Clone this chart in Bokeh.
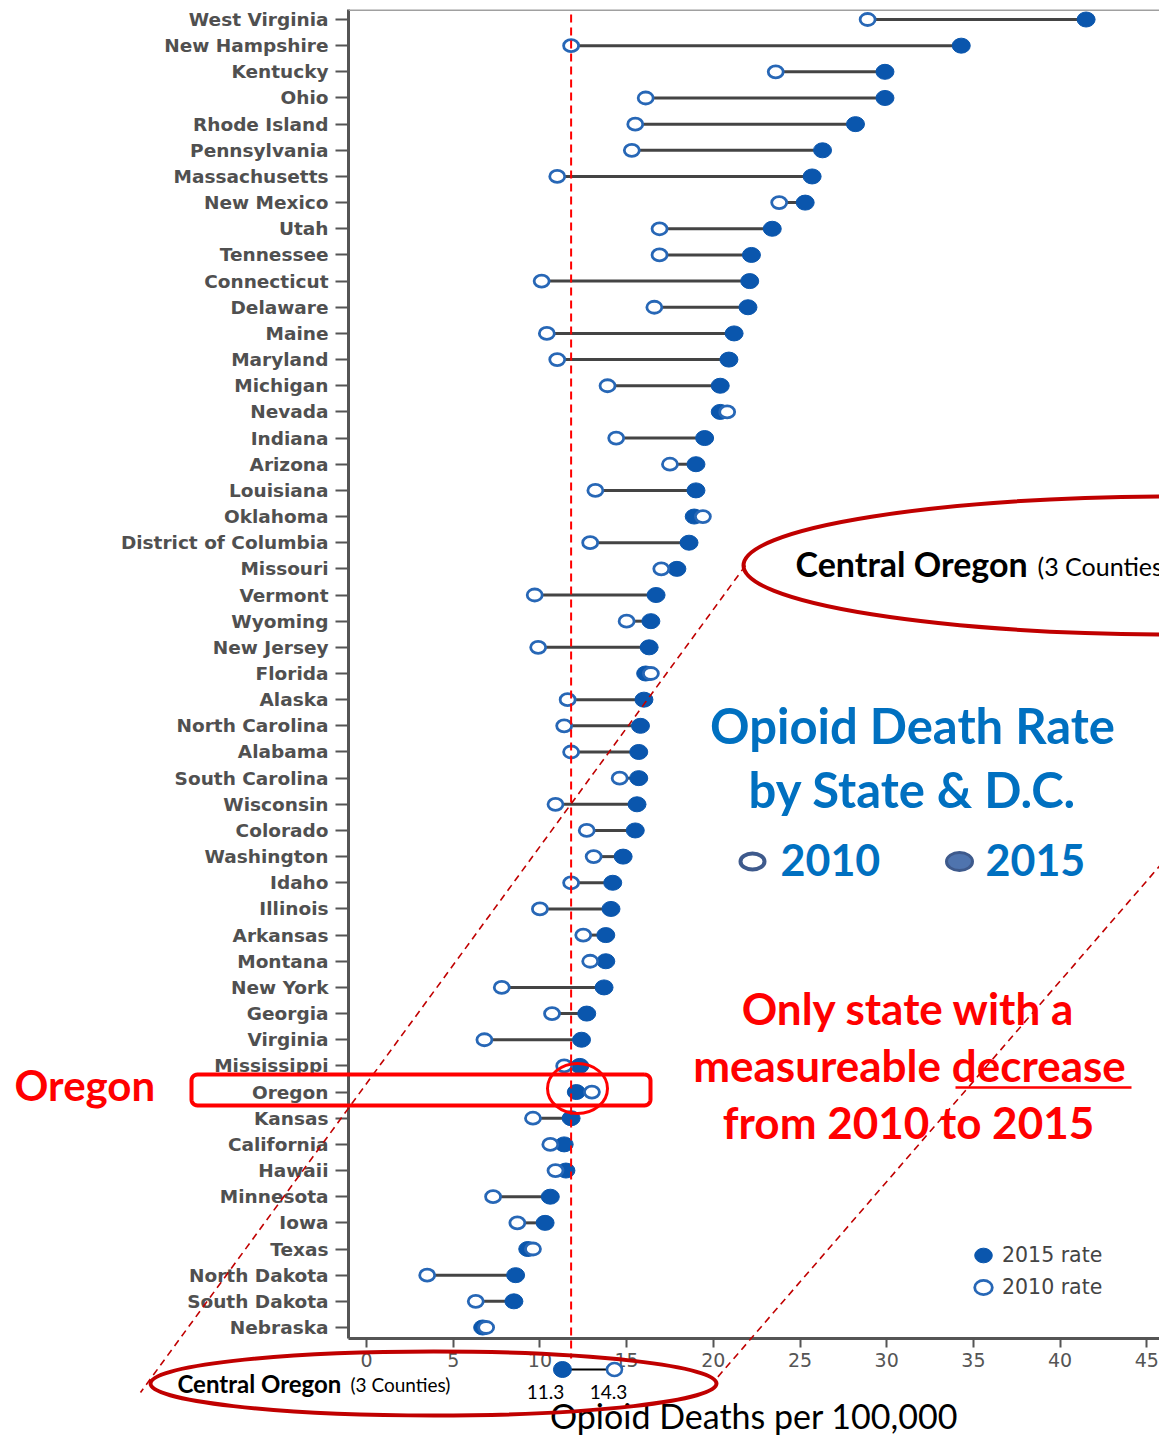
import numpy as np
from bokeh.plotting import figure
from bokeh.models import (ColumnDataSource, FixedTicker, Span, Legend, LegendItem, Range1d)
from bokeh.core.properties import value
from bokeh.embed import file_html
from bokeh.resources import INLINE

# ---------------- data ----------------
states = ["West Virginia", "New Hampshire", "Kentucky", "Ohio", "Rhode Island", "Pennsylvania",
          "Massachusetts", "New Mexico", "Utah", "Tennessee", "Connecticut", "Delaware", "Maine",
          "Maryland", "Michigan", "Nevada", "Indiana", "Arizona", "Louisiana", "Oklahoma",
          "District of Columbia", "Missouri", "Vermont", "Wyoming", "New Jersey", "Florida",
          "Alaska", "North Carolina", "Alabama", "South Carolina", "Wisconsin", "Colorado",
          "Washington", "Idaho", "Illinois", "Arkansas", "Montana", "New York", "Georgia",
          "Virginia", "Mississippi", "Oregon", "Kansas", "California", "Hawaii", "Minnesota",
          "Iowa", "Texas", "North Dakota", "South Dakota", "Nebraska"]
rate_2010 = [28.9, 11.8, 23.6, 16.1, 15.5, 15.3, 11.0, 23.8, 16.9, 16.9, 10.1, 16.6, 10.4,
             11.0, 13.9, 20.8, 14.4, 17.5, 13.2, 19.4, 12.9, 17.0, 9.7, 15.0, 9.9, 16.4,
             11.6, 11.4, 11.8, 14.6, 10.9, 12.7, 13.1, 11.8, 10.0, 12.5, 12.9, 7.8, 10.7,
             6.8, 11.4, 13.0, 9.6, 10.6, 10.9, 7.3, 8.7, 9.6, 3.5, 6.3, 6.9]
rate_2015 = [41.5, 34.3, 29.9, 29.9, 28.2, 26.3, 25.7, 25.3, 23.4, 22.2, 22.1, 22.0, 21.2,
             20.9, 20.4, 20.4, 19.5, 19.0, 19.0, 18.9, 18.6, 17.9, 16.7, 16.4, 16.3, 16.1,
             16.0, 15.8, 15.7, 15.7, 15.6, 15.5, 14.8, 14.2, 14.1, 13.8, 13.8, 13.7, 12.7,
             12.4, 12.3, 12.1, 11.8, 11.4, 11.5, 10.6, 10.3, 9.3, 8.6, 8.5, 6.7]
x_ticks = [0, 5, 10, 15, 20, 25, 30, 35, 40, 45]
central_oregon_2015 = [11.3]
central_oregon_2010 = [14.3]
reference_value = 11.8

n = len(states)
ypos = [n - i for i in range(n)]

# page-pixel -> data helpers (layout only)
PX0, PXU = 366.0, 17.34
PY0, PYU = 19.0, 26.16


def dx(px):
    return (px - PX0) / PXU


def dy(py):
    return n - (py - PY0) / PYU


def rrect_pts(x0, y0, x1, y1, r, k=8):
    pts = []
    for cx, cy, a0 in [(x1 - r, y0 + r, -90), (x1 - r, y1 - r, 0), (x0 + r, y1 - r, 90), (x0 + r, y0 + r, 180)]:
        for a in np.linspace(np.radians(a0), np.radians(a0 + 90), k):
            pts.append((cx + r * np.cos(a), cy + r * np.sin(a)))
    pts.append(pts[0])
    return [dx(a) for a, _ in pts], [dy(b) for _, b in pts]


p = figure(width=1159, height=1440,
           x_range=Range1d(dx(348), dx(1159)), y_range=Range1d(dy(1338), dy(9)),
           output_backend="svg", toolbar_location=None,
           min_border_left=348, min_border_right=0, min_border_top=9, min_border_bottom=102)
p.outline_line_color = None
p.background_fill_color = "white"
p.border_fill_color = "white"
p.xgrid.grid_line_color = None
p.ygrid.grid_line_color = None

src = ColumnDataSource(dict(y=ypos, r10=rate_2010, r15=rate_2015, state=states))
p.segment(x0="r10", x1="r15", y0="y", y1="y", source=src, line_color="#444444", line_width=3)
r15 = p.ellipse(x="r15", y="y", width=18, height=15, width_units="screen", height_units="screen",
                fill_color="#0a56ad", line_color="#0a56ad", line_width=1, source=src)
r10 = p.ellipse(x="r10", y="y", width=15, height=12, width_units="screen", height_units="screen",
                fill_color="white", line_color="#2767b6", line_width=2.8, source=src)

legend = Legend(items=[LegendItem(label="2015 rate", renderers=[r15]),
                       LegendItem(label="2010 rate", renderers=[r10])],
                location=(624, 39), orientation="vertical",
                border_line_color=None, background_fill_alpha=0, padding=0, margin=0,
                spacing=8, glyph_width=22, glyph_height=22, label_height=22, label_standoff=8,
                label_text_font="DejaVu Sans", label_text_font_size="20.5px", label_text_color="#444444")
p.add_layout(legend)

# axes
p.xaxis.ticker = FixedTicker(ticks=x_ticks)
p.yaxis.ticker = FixedTicker(ticks=ypos)
p.yaxis.major_label_overrides = {y: s for y, s in zip(ypos, states)}
for ax in (p.xaxis[0], p.yaxis[0]):
    ax.axis_line_color = "#555555"
    ax.axis_line_width = 3
    ax.major_tick_line_color = "#555555"
    ax.major_tick_line_width = 2
    ax.major_tick_in = 0
    ax.minor_tick_line_color = None
    ax.major_label_text_font = "DejaVu Sans"
p.yaxis.major_tick_out = 13
p.yaxis.major_label_standoff = 7
p.yaxis.major_label_text_font_size = "18.5px"
p.yaxis.major_label_text_font_style = "bold"
p.yaxis.major_label_text_color = "#505050"
p.xaxis.major_tick_out = 9
p.xaxis.major_label_standoff = 5
p.xaxis.major_label_text_font_size = "19px"
p.xaxis.major_label_text_color = "#555555"
p.xaxis.axis_label = "Opioid Deaths per 100,000"
p.xaxis.axis_label_text_font = "Lato"
p.xaxis.axis_label_text_font_size = "34px"
p.xaxis.axis_label_text_font_style = "normal"
p.xaxis.axis_label_text_color = "black"
p.xaxis.axis_label_standoff = 25

# top frame line
p.add_layout(Span(location=dy(9), dimension="width", line_color="#a0a0a0", line_width=3))

OV = "overlay"
DR = "#c00000"
RED = "#ff0000"
BLUE = "#0070c0"

# vertical reference line
p.segment(x0=[reference_value], x1=[reference_value], y0=[dy(14)], y1=[dy(1358)],
          line_color=RED, line_width=2, line_dash="8 5", level=OV)

# dashed callout lines
p.segment(x0=[dx(745), dx(1240)], y0=[dy(565), dy(772)], x1=[dx(140), dx(716)], y1=[dy(1392), dy(1378)],
          line_color=DR, line_width=1.6, line_dash="7 5", level=OV)

# callout ellipses
p.ellipse(x=[dx(1180), dx(433)], y=[dy(565), dy(1383)], width=[874, 566], height=[138, 64],
          width_units="screen", height_units="screen", fill_color=None, line_color=DR, line_width=4, level=OV)

# Oregon highlight
xs, ys = rrect_pts(191, 1074, 650, 1105, 6)
p.line(xs, ys, line_color=RED, line_width=4, level=OV)
p.ellipse(x=[dx(577)], y=[dy(1088)], width=60, height=50, width_units="screen", height_units="screen",
          fill_color=None, line_color=RED, line_width=3, level=OV)


def lab(px, py, text, size, color, style="normal", align="left", font="Lato"):
    p.text(x=[dx(px)], y=[dy(py)], text=[text], text_align=align, text_baseline="middle",
           text_font=value(font), text_font_size=value(size), text_font_style=style,
           text_color=color, level=OV)


lab(14, 1084, "Oregon", "42px", RED, "bold")
lab(912, 724, "Opioid Death Rate", "49px", BLUE, "bold", "center")
lab(912, 788, "by State & D.C.", "49px", BLUE, "bold", "center")
lab(780, 859, "2010", "43px", BLUE, "bold")
lab(985, 859, "2015", "43px", BLUE, "bold")
p.ellipse(x=[dx(752)], y=[dy(861)], width=24, height=16, width_units="screen", height_units="screen",
          fill_color="white", line_color="#3e5a8c", line_width=4, level=OV)
p.ellipse(x=[dx(959)], y=[dy(861)], width=26, height=18, width_units="screen", height_units="screen",
          fill_color="#4f74ae", line_color="#3e5a8c", line_width=3, level=OV)

lab(908, 1007, "Only state with a", "44px", RED, "bold", "center")
lab(909, 1064, "measureable decrease", "44px", RED, "bold", "center")
lab(908, 1121, "from 2010 to 2015", "44px", RED, "bold", "center")
p.segment(x0=[dx(955)], x1=[dx(1131)], y0=[dy(1087)], y1=[dy(1087)], line_color=RED, line_width=2.5, level=OV)

lab(795, 563, "Central Oregon", "34px", "black", "bold")
lab(1037, 565, "(3 Counties)", "25px", "black")
lab(177, 1383, "Central Oregon", "24px", "black", "bold")
lab(350, 1384, "(3 Counties)", "19px", "black")

# Central Oregon inset points (drawn through the x scale)
co = ColumnDataSource(dict(a=central_oregon_2015, b=central_oregon_2010, y=[dy(1369)], ly=[dy(1391)],
                           ta=[str(v) for v in central_oregon_2015], tb=[str(v) for v in central_oregon_2010]))
p.segment(x0="a", x1="b", y0="y", y1="y", source=co, line_color="black", line_width=2, level=OV)
p.ellipse(x="a", y="y", width=18, height=16, width_units="screen", height_units="screen",
          fill_color="#0a56ad", line_color="#0a56ad", source=co, level=OV)
p.ellipse(x="b", y="y", width=15, height=13, width_units="screen", height_units="screen",
          fill_color="white", line_color="#2767b6", line_width=2.6, source=co, level=OV)
p.text(x="a", y="ly", text="ta", x_offset=-17, source=co, text_align="center", text_baseline="middle",
       text_font=value("Lato"), text_font_size=value("19px"), text_color="black", level=OV)
p.text(x="b", y="ly", text="tb", x_offset=-6, source=co, text_align="center", text_baseline="middle",
       text_font=value("Lato"), text_font_size=value("19px"), text_color="black", level=OV)

open("out.html", "w").write(file_html(p, INLINE))
